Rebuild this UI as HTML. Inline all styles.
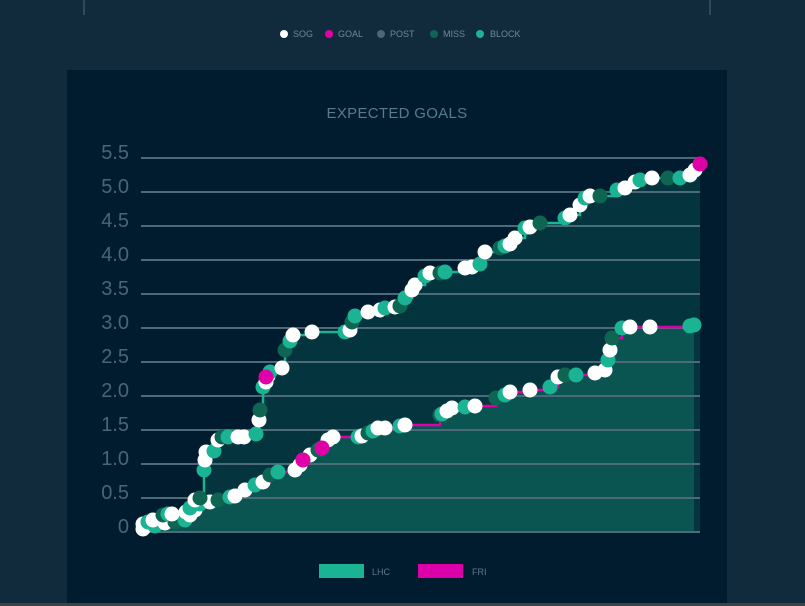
<!DOCTYPE html>
<html><head><meta charset="utf-8"><style>
html,body{margin:0;padding:0;background:#112b3d;width:805px;height:606px;overflow:hidden;font-family:"Liberation Sans",sans-serif}
</style></head><body>
<svg width="805" height="606" xmlns="http://www.w3.org/2000/svg" id="s">
<rect width="805" height="606" fill="#112b3d"/>
<line x1="84" y1="0" x2="84" y2="15" stroke="#3a5366" stroke-width="1.5"/>
<line x1="710" y1="0" x2="710" y2="15" stroke="#3a5366" stroke-width="1.5"/>
<g font-size="9" fill="#6d8799">
<circle cx="284" cy="34" r="4" fill="#fff"/><text x="293" y="37">SOG</text>
<circle cx="329" cy="34" r="4" fill="#e000a8"/><text x="338" y="37">GOAL</text>
<circle cx="381" cy="34" r="4" fill="#4c6577"/><text x="390" y="37">POST</text>
<circle cx="434" cy="34" r="4" fill="#0e6552"/><text x="443" y="37">MISS</text>
<circle cx="480" cy="34" r="4" fill="#1ab394"/><text x="490" y="37">BLOCK</text>
</g>
<rect x="67" y="70" width="660" height="534" fill="#001c2e"/>
<rect x="0" y="603" width="805" height="3" fill="#3a4448"/>
<text x="397" y="118" text-anchor="middle" font-size="15" fill="#587a90" letter-spacing="0.3">EXPECTED GOALS</text>
<g id="fills"></g>
<g id="grid"></g>
<g id="lines"></g>
<g id="dots"></g>
<rect x="319" y="564" width="45" height="14" fill="#1ab394"/><text x="372" y="575" font-size="9" fill="#587a90">LHC</text>
<rect x="418" y="564" width="45" height="14" fill="#dc00a8"/><text x="472" y="575" font-size="9" fill="#587a90">FRI</text>
</svg>
<script>
var NS="http://www.w3.org/2000/svg",s=document.getElementById('s');
function el(g,t,a){var e=document.createElementNS(NS,t);for(var k in a)e.setAttribute(k,a[k]);document.getElementById(g).appendChild(e);return e;}
var U=[[143,524],[148,522],[153,520],[163,515],[168,514],[172,514],[186,512],[190,508],[195,500],[200,498],[204,470],[205,460],[206,452],[214,451],[218,440],[222,437],[228,437],[238,437],[244,437],[256,434],[259,420],[260,410],[263,387],[266,382],[268,376],[270,372],[282,368],[285,350],[290,341],[293,335],[312,332],[345,332],[350,330],[352,322],[355,316],[368,312],[380,310],[385,308],[395,307],[400,306],[405,298],[412,290],[415,285],[425,276],[430,273],[440,273],[445,272],[465,268],[472,267],[480,264],[485,252],[500,248],[505,246],[510,244],[515,238],[525,228],[530,227],[540,223],[565,218],[570,215],[580,205],[585,198],[590,196],[600,196],[617,190],[625,188],[635,182],[640,180],[652,178],[668,178],[680,178],[690,175],[695,170],[700,164]];
var L=[[143,529],[155,526],[165,523],[175,522],[185,520],[190,515],[195,510],[200,504],[210,502],[218,500],[230,497],[235,496],[245,490],[255,485],[263,482],[270,475],[278,472],[295,470],[300,465],[303,460],[310,455],[318,450],[322,448],[328,440],[333,437],[358,437],[362,436],[368,433],[373,431],[378,428],[385,428],[400,426],[405,425],[440,415],[442,414],[447,411],[452,408],[465,407],[475,406],[496,398],[505,395],[510,392],[530,390],[550,387],[558,377],[565,375],[576,375],[595,373],[605,370],[608,360],[610,350],[612,338],[622,328],[630,327],[650,327],[690,326],[694,325]];
function step(P){var d="M"+P[0][0]+","+P[0][1];for(var i=1;i<P.length;i++){d+=" H"+P[i][0]+" V"+P[i][1];}return d;}
el('fills','path',{d:step(U)+" V532 H"+U[0][0]+" Z",fill:"#04353f"});
el('fills','path',{d:step(L)+" V532 H"+L[0][0]+" Z",fill:"#0a5552"});
var labs=["0","0.5","1.0","1.5","2.0","2.5","3.0","3.5","4.0","4.5","5.0","5.5"];
for(var i=0;i<12;i++){var y=532-i*34;
el('grid','line',{x1:141,x2:700,y1:y,y2:y,stroke:"#4c6a7a","stroke-width":2});
var t=el('grid','text',{x:129,y:y+1,"text-anchor":"end","font-size":20,fill:"#4b6577"});t.textContent=labs[i];}
el('lines','path',{d:step(U),fill:"none",stroke:"#1ab394","stroke-width":2.5});
el('lines','path',{d:step(L),fill:"none",stroke:"#dc00a8","stroke-width":2.5});
var cols=["#ffffff","#1ab394","#ffffff","#0e6552","#1ab394","#ffffff"];
function dots(P,last){for(var i=0;i<P.length;i++){var c=cols[(i*7)%cols.length];if(i==P.length-1)c=last;
el('dots','circle',{cx:P[i][0],cy:P[i][1],r:7.5,fill:c});}}
dots(L,"#1ab394");dots(U,"#e000a8");
[[266,377],[303,460],[322,448]].forEach(function(p){el('dots','circle',{cx:p[0],cy:p[1],r:7.5,fill:"#e000a8"});});
</script>
</body></html>
